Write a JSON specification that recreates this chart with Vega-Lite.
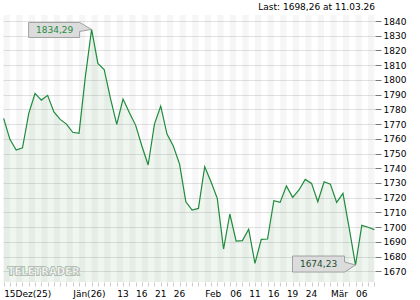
{
  "$schema": "https://vega.github.io/schema/vega-lite/v6.json",
  "width": 372,
  "height": 267,
  "autosize": "none",
  "padding": {"left": 3, "top": 15, "right": 45, "bottom": 18},
  "background": "white",
  "config": {
    "view": {"stroke": null},
    "font": "DejaVu Sans",
    "locale": {"number": {"decimal": ",", "thousands": ".", "grouping": [3], "currency": ["", " €"]}}
  },
  "title": {"text": "Last: 1698,26 at 11.03.26", "anchor": "end", "frame": "group", "fontSize": 9, "fontWeight": "normal", "color": "#000", "offset": 3, "font": "DejaVu Sans"},
  "data": {"values": [
    {"d": "2025-12-15", "v": 1773.9},
    {"d": "2025-12-16", "v": 1759.6},
    {"d": "2025-12-17", "v": 1752.3},
    {"d": "2025-12-18", "v": 1753.9},
    {"d": "2025-12-19", "v": 1777.3},
    {"d": "2025-12-22", "v": 1790.8},
    {"d": "2025-12-23", "v": 1786.3},
    {"d": "2025-12-24", "v": 1789.5},
    {"d": "2025-12-29", "v": 1778.3},
    {"d": "2025-12-30", "v": 1773.2},
    {"d": "2025-12-31", "v": 1770.0},
    {"d": "2026-01-02", "v": 1764.4},
    {"d": "2026-01-05", "v": 1763.7},
    {"d": "2026-01-06", "v": 1802.1},
    {"d": "2026-01-07", "v": 1834.29},
    {"d": "2026-01-08", "v": 1811.2},
    {"d": "2026-01-09", "v": 1807.1},
    {"d": "2026-01-12", "v": 1787.4},
    {"d": "2026-01-13", "v": 1769.8},
    {"d": "2026-01-14", "v": 1787.0},
    {"d": "2026-01-15", "v": 1777.9},
    {"d": "2026-01-16", "v": 1769.3},
    {"d": "2026-01-19", "v": 1755.1},
    {"d": "2026-01-20", "v": 1742.2},
    {"d": "2026-01-21", "v": 1770.0},
    {"d": "2026-01-22", "v": 1782.2},
    {"d": "2026-01-23", "v": 1763.2},
    {"d": "2026-01-26", "v": 1755.1},
    {"d": "2026-01-27", "v": 1742.8},
    {"d": "2026-01-28", "v": 1717.2},
    {"d": "2026-01-29", "v": 1711.6},
    {"d": "2026-01-30", "v": 1712.7},
    {"d": "2026-02-02", "v": 1741.0},
    {"d": "2026-02-03", "v": 1730.8},
    {"d": "2026-02-04", "v": 1719.5},
    {"d": "2026-02-05", "v": 1685.1},
    {"d": "2026-02-06", "v": 1708.9},
    {"d": "2026-02-09", "v": 1690.5},
    {"d": "2026-02-10", "v": 1690.8},
    {"d": "2026-02-11", "v": 1698.5},
    {"d": "2026-02-12", "v": 1675.4},
    {"d": "2026-02-13", "v": 1691.7},
    {"d": "2026-02-16", "v": 1691.9},
    {"d": "2026-02-17", "v": 1717.9},
    {"d": "2026-02-18", "v": 1716.8},
    {"d": "2026-02-19", "v": 1727.9},
    {"d": "2026-02-20", "v": 1720.2},
    {"d": "2026-02-23", "v": 1725.2},
    {"d": "2026-02-24", "v": 1732.4},
    {"d": "2026-02-25", "v": 1729.7},
    {"d": "2026-02-26", "v": 1717.2},
    {"d": "2026-02-27", "v": 1730.8},
    {"d": "2026-03-02", "v": 1729.2},
    {"d": "2026-03-03", "v": 1716.8},
    {"d": "2026-03-04", "v": 1722.9},
    {"d": "2026-03-05", "v": 1699.2},
    {"d": "2026-03-06", "v": 1674.23},
    {"d": "2026-03-09", "v": 1701.2},
    {"d": "2026-03-10", "v": 1699.9},
    {"d": "2026-03-11", "v": 1698.26}
  ]},
  "encoding": {
    "x": {
      "field": "d", "type": "ordinal", "title": null,
      "scale": {"type": "point", "padding": 0.1},
      "axis": {
        "orient": "bottom", "domain": false, "grid": false,
        "ticks": true, "tickSize": 4, "tickColor": "#cccccc", "tickWidth": 1,
        "labelAngle": 0, "labelAlign": "left", "labelPadding": 3, "labelOverlap": false,
        "labelFont": "DejaVu Sans", "labelFontSize": 9, "labelColor": "#000",
        "labelExpr": "datum.value == '2025-12-15' ? '15Dez(25)' : datum.value == '2026-01-02' ? 'Jän(26)' : datum.value == '2026-01-13' ? '13' : datum.value == '2026-01-16' ? '16' : datum.value == '2026-01-21' ? '21' : datum.value == '2026-01-26' ? '26' : datum.value == '2026-02-02' ? 'Feb' : datum.value == '2026-02-06' ? '06' : datum.value == '2026-02-11' ? '11' : datum.value == '2026-02-16' ? '16' : datum.value == '2026-02-19' ? '19' : datum.value == '2026-02-24' ? '24' : datum.value == '2026-03-02' ? 'Mär' : datum.value == '2026-03-06' ? '06' : ''"
      }
    },
    "y": {
      "field": "v", "type": "quantitative",
      "scale": {"domain": [1662.7, 1844.1], "nice": false, "zero": false},
      "axis": {"orient": "right", "title": null,
        "values": [1670, 1680, 1690, 1700, 1710, 1720, 1730, 1740, 1750, 1760, 1770, 1780, 1790, 1800, 1810, 1820, 1830, 1840],
        "format": "d", "domain": false, "grid": true, "gridColor": "#e2e2e2", "gridWidth": 1, "labelOverlap": false,
        "ticks": true, "tickSize": 6, "tickColor": "#777", "labelPadding": 2,
        "labelFont": "DejaVu Sans", "labelFontSize": 9, "labelColor": "#000"}
    }
  },
  "layer": [
    {
      "transform": [
        {"window": [{"op": "row_number", "as": "i"}, {"op": "lead", "field": "d", "as": "d2"}], "sort": [{"field": "d"}]},
        {"filter": "datum.i % 2 == 1 && datum.d2 != null"}
      ],
      "mark": {"type": "rect", "fill": "#000", "opacity": 0.035},
      "encoding": {"x2": {"field": "d2"}, "y": {"datum": 1844.1}, "y2": {"datum": 1662.7}}
    },
    {
      "mark": {"type": "area", "fill": "#2d8a3e", "opacity": 0.08},
      "encoding": {"y2": {"datum": 1662.7}}
    },
    {
      "mark": {"type": "line", "color": "#1f8b3c", "strokeWidth": 1.2}
    },
    {
      "mark": {"type": "text", "text": "TELETRADER", "font": "DejaVu Sans", "fontWeight": "bold", "fontSize": 10, "align": "left", "baseline": "middle", "dx": 4, "fill": "#ffffff", "stroke": "#b4beb4", "strokeWidth": 0.6},
      "encoding": {"x": {"datum": "2025-12-15", "type": "ordinal"}, "y": {"datum": 1669.5}}
    },
    {
      "transform": [
        {"joinaggregate": [{"op": "max", "field": "v", "as": "mx"}]},
        {"filter": "datum.v == datum.mx"}
      ],
      "layer": [
        {
          "mark": {"type": "point", "shape": "M0,0 L-12,-7 L-63,-7 L-63,8 L-12,8 L-12,2 Z", "size": 4, "filled": true, "fill": "#dcdcdc", "stroke": "#a0a0a0", "strokeWidth": 1, "opacity": 1}
        },
        {
          "mark": {"type": "text", "dx": -37, "dy": 0.5, "align": "center", "baseline": "middle", "fontSize": 9, "font": "DejaVu Sans", "fill": "#1f8b3c"},
          "encoding": {"text": {"field": "v", "type": "quantitative", "format": ".2f"}}
        }
      ]
    },
    {
      "transform": [
        {"joinaggregate": [{"op": "min", "field": "v", "as": "mn"}]},
        {"filter": "datum.v == datum.mn"}
      ],
      "layer": [
        {
          "mark": {"type": "point", "shape": "M0,0 L-11,-3 L-11,-9 L-63,-9 L-63,7 L-11,7 Z", "size": 4, "filled": true, "fill": "#dcdcdc", "stroke": "#a0a0a0", "strokeWidth": 1, "opacity": 1}
        },
        {
          "mark": {"type": "text", "dx": -37, "dy": -1, "align": "center", "baseline": "middle", "fontSize": 9, "font": "DejaVu Sans", "fill": "#1c4f2f"},
          "encoding": {"text": {"field": "v", "type": "quantitative", "format": ".2f"}}
        }
      ]
    }
  ]
}
